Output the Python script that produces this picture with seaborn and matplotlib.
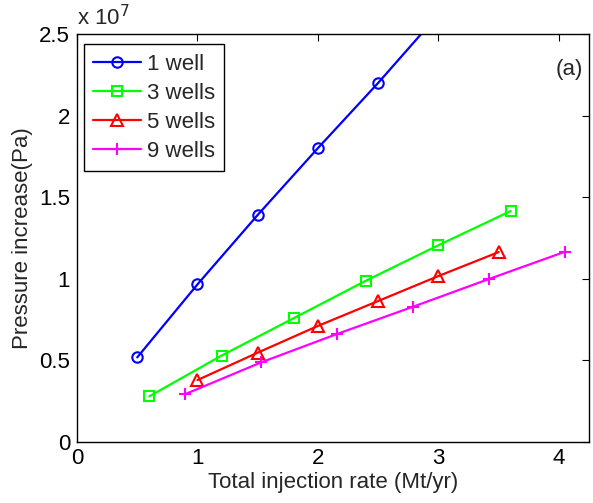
import matplotlib
matplotlib.use("Agg")
import matplotlib.pyplot as plt
import seaborn as sns
import pandas as pd
from matplotlib.ticker import FuncFormatter

sns.set_style("white")
plt.rcParams['font.family'] = ['Liberation Sans', 'DejaVu Sans']

# Data (pressure in Pa)
x_1well = [0.5, 1.0, 1.5, 2.0, 2.5, 3.0]
y_1well = [0.516e7, 0.964e7, 1.39e7, 1.80e7, 2.20e7, 2.62e7]
x_3wells = [0.6, 1.2, 1.8, 2.4, 3.0, 3.6]
y_3wells = [0.277e7, 0.527e7, 0.757e7, 0.987e7, 1.204e7, 1.414e7]
x_5wells = [1.0, 1.5, 2.0, 2.5, 3.0, 3.5]
y_5wells = [0.377e7, 0.545e7, 0.709e7, 0.862e7, 1.015e7, 1.162e7]
x_9wells = [0.9, 1.53, 2.16, 2.79, 3.42, 4.05]
y_9wells = [0.291e7, 0.486e7, 0.66e7, 0.827e7, 0.997e7, 1.164e7]

series = [
    ("1 well", x_1well, y_1well, (0, 0, 1), "o", 7.5),
    ("3 wells", x_3wells, y_3wells, (0, 1, 0), "s", 7),
    ("5 wells", x_5wells, y_5wells, (1, 0, 0), "^", 8.5),
    ("9 wells", x_9wells, y_9wells, (1, 0, 1), "+", 9),
]

FS = 16

fig = plt.figure(figsize=(5.93, 5.03), dpi=100)
ax = fig.add_axes([77/593, 1 - 441.5/503, (589 - 77)/593, (441.5 - 34)/503])

for name, xs, ys, col, mk, ms in series:
    df = pd.DataFrame({"x": xs, "y": ys})
    sns.lineplot(data=df, x="x", y="y", ax=ax, color=col, marker=mk,
                 markersize=ms, markerfacecolor="none", markeredgecolor=col,
                 markeredgewidth=1.5, linewidth=1.6, label=name, sort=False)

ax.set_xlim(0, 4.25)
ax.set_ylim(0, 2.5e7)
ax.set_xticks([0, 1, 2, 3, 4])
ax.set_yticks([0, 0.5e7, 1.0e7, 1.5e7, 2.0e7, 2.5e7])
ax.yaxis.set_major_formatter(FuncFormatter(lambda v, p: f"{v/1e7:g}"))
ax.xaxis.set_major_formatter(FuncFormatter(lambda v, p: f"{v:g}"))
ax.tick_params(direction="in", length=5, width=0.8, top=True, right=True,
               labelsize=FS, colors="black", pad=5)
for s in ax.spines.values():
    s.set_color("black")
    s.set_linewidth(1.0)

ax.set_xlabel("Total injection rate (Mt/yr)", fontsize=FS, labelpad=2)
ax.set_ylabel("Pressure increase(Pa)", fontsize=FS, labelpad=4)

ax.text(0.0, 1.01, r"x 10$^7$", transform=ax.transAxes, fontsize=FS,
        ha="left", va="bottom")
ax.text(0.988, 0.912, "(a)", transform=ax.transAxes, fontsize=FS,
        ha="right", va="center")

leg = ax.legend(loc="upper left", bbox_to_anchor=(0.0137, 0.975), fontsize=FS,
                frameon=True, fancybox=False, framealpha=1, edgecolor="black",
                handlelength=2.15, handletextpad=0.25, labelspacing=0.36,
                borderpad=0.42, borderaxespad=0)
leg.get_frame().set_linewidth(1.0)

fig.savefig("out.png", dpi=100, facecolor="white")
